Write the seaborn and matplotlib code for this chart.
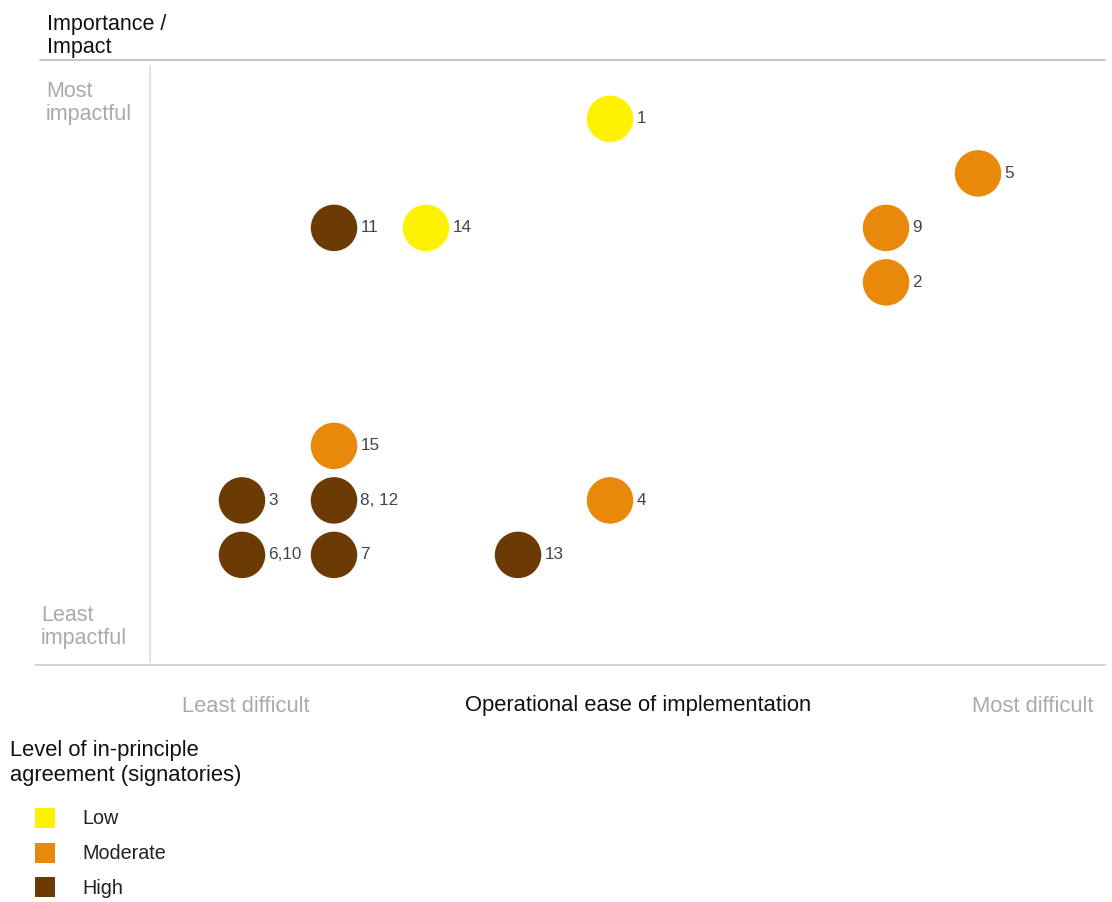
import matplotlib
matplotlib.use("Agg")
import matplotlib.pyplot as plt
from matplotlib.lines import Line2D
from matplotlib.patches import Rectangle
import seaborn as sns
import pandas as pd

# Recommendations placed on an ease (x) vs impact (y) grid
labels = ["1", "5", "11", "14", "9", "2", "15", "3", "8, 12", "4", "6,10", "7", "13"]
ease = [5, 9, 2, 3, 8, 8, 2, 1, 2, 5, 1, 2, 4]
impact = [9, 8, 7, 7, 7, 6, 3, 2, 2, 2, 1, 1, 1]
agreement = ["Low", "Moderate", "High", "Low", "Moderate", "Moderate", "Moderate",
             "High", "High", "Moderate", "High", "High", "High"]
levels = ["Low", "Moderate", "High"]

df = pd.DataFrame({"label": labels, "ease": ease, "impact": impact, "agreement": agreement})
palette = {"Low": "#FFF200", "Moderate": "#E8890C", "High": "#6B3A05"}

sns.set_theme(style="white")
plt.rcParams["font.family"] = ["Liberation Sans", "DejaVu Sans"]

W, H = 1112, 902
fig = plt.figure(figsize=(W / 100, H / 100), dpi=100)
fig.patch.set_facecolor("white")


def fx(px):
    return px / W


def fy(py):
    return 1 - py / H


ax = fig.add_axes([fx(150), fy(665), fx(1105) - fx(150), fy(60) - fy(665)])
sns.scatterplot(data=df, x="ease", y="impact", hue="agreement", palette=palette,
                hue_order=levels, s=1120, linewidth=0, legend=False, ax=ax, zorder=3)
for lab, xv, yv in zip(labels, ease, impact):
    ax.annotate(lab, (xv, yv), xytext=(19, 0), textcoords="offset points",
                ha="left", va="center", fontsize=12.3, color="#444444")

ax.set_xlim(0, 10.38)
ax.set_ylim(-1.02, 10.08)
ax.set_xticks([])
ax.set_yticks([])
ax.set_xlabel("")
ax.set_ylabel("")
for sp in ax.spines.values():
    sp.set_visible(False)

# Frame lines
fig.add_artist(Line2D([fx(40), fx(1105)], [fy(60), fy(60)], color="#BBBBBB", lw=1.2))
fig.add_artist(Line2D([fx(35), fx(1105)], [fy(665), fy(665)], color="#CCCCCC", lw=1.2))
fig.add_artist(Line2D([fx(150), fx(150)], [fy(66), fy(662)], color="#DDDDDD", lw=1.2))

# Axis texts
fig.text(fx(47), fy(36), "Importance /\nImpact", fontsize=15.5, color="#111111",
         ha="left", va="center", linespacing=1.1)
fig.text(fx(46), fy(103), "Most\nimpactful", fontsize=15.5, color="#AAAAAA",
         ha="left", va="center", linespacing=1.1)
fig.text(fx(41), fy(627), "Least\nimpactful", fontsize=15.5, color="#AAAAAA",
         ha="left", va="center", linespacing=1.1)
fig.text(fx(246), fy(706), "Least difficult", fontsize=15.8, color="#AAAAAA",
         ha="center", va="center")
fig.text(fx(638), fy(706), "Operational ease of implementation", fontsize=15.8,
         color="#111111", ha="center", va="center")
fig.text(fx(1093), fy(706), "Most difficult", fontsize=15.8, color="#AAAAAA",
         ha="right", va="center")

# Legend
fig.text(fx(10), fy(763), "Level of in-principle\nagreement (signatories)", fontsize=15.8,
         color="#111111", ha="left", va="center", linespacing=1.2)
for i, lev in enumerate(levels):
    cy = 818 + i * 34.5
    fig.add_artist(Rectangle((fx(35), fy(cy + 10)), fx(20), fy(0) - fy(20),
                             transform=fig.transFigure, facecolor=palette[lev],
                             edgecolor="none"))
    fig.text(fx(82), fy(cy + 1), lev, fontsize=14.2, color="#222222",
             ha="left", va="center")

fig.savefig("out.png", dpi=100, facecolor="white")
